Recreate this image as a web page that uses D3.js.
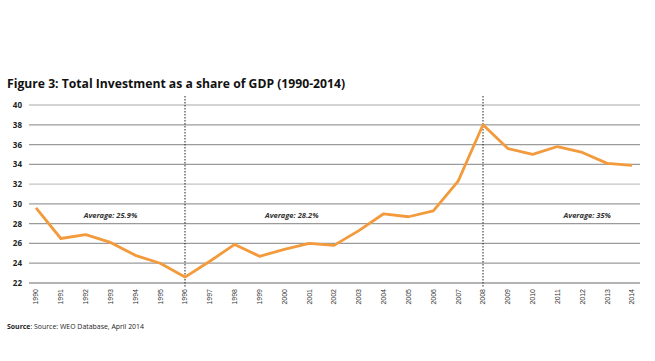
<!DOCTYPE html>
<html><head><meta charset="utf-8">
<script src="https://cdn.jsdelivr.net/npm/d3@7"></script>
<style>body{margin:0;background:#fff}svg{display:block}</style>
</head><body>
<svg id="c" width="655" height="361"></svg>
<script>
const years = d3.range(1990, 2015);
const values = [29.6,26.5,26.9,26.1,24.8,24.0,22.6,24.2,25.9,24.7,25.4,26.0,25.8,27.3,29.0,28.7,29.3,32.3,38.0,35.6,35.0,35.8,35.2,34.1,33.9];
const yTicks = [22,24,26,28,30,32,34,36,38,40];
const dividers = [1996, 2008];
const averages = [{label:"Average: 25.9%", year:1993}, {label:"Average: 28.2%", year:2000.3}, {label:"Average: 35%", year:2012.2}];
const title = "Figure 3: Total Investment as a share of GDP (1990-2014)";

const svg = d3.select("#c");
const x = d3.scaleLinear().domain([1990, 2014]).range([36, 632]);
const y = d3.scaleLinear().domain([22, 40]).range([283, 105]);

svg.append("g").selectAll("line").data(yTicks).join("line")
  .attr("x1", 29).attr("x2", 640)
  .attr("y1", d => y(d)).attr("y2", d => y(d))
  .attr("stroke", d => (d===40||d===32) ? "#c4c4c4" : "#9b9b9b").attr("stroke-width", 1.3);

svg.append("g").selectAll("text").data(yTicks).join("text")
  .attr("x", 22).attr("y", d => y(d) + 3)
  .attr("text-anchor", "end")
  .attr("font-family", "Open Sans, sans-serif").attr("font-weight", "bold")
  .attr("font-size", 8).attr("fill", "#222").text(d => d);

svg.append("g").selectAll("text").data(years).join("text")
  .attr("transform", d => `translate(${x(d)+2.4},289) rotate(-90)`)
  .attr("text-anchor", "end")
  .attr("font-family", "Liberation Sans, Arial, sans-serif")
  .attr("font-size", 7).attr("fill", "#333").text(d => d);

svg.append("g").selectAll("line").data(dividers).join("line")
  .attr("x1", d => x(d)).attr("x2", d => x(d))
  .attr("y1", 96).attr("y2", 287)
  .attr("stroke", "#222").attr("stroke-width", 1).attr("stroke-dasharray", "1.5,1.5");

svg.append("path").datum(values)
  .attr("fill", "none").attr("stroke", "#f39a3c").attr("stroke-width", 2.8)
  .attr("stroke-linejoin", "round")
  .attr("d", d3.line().x((d,i) => x(years[i])).y(d => y(d)));

svg.append("g").selectAll("text").data(averages).join("text")
  .attr("x", d => x(d.year)).attr("y", y(28.6))
  .attr("text-anchor", "middle")
  .attr("font-family", "Open Sans, sans-serif").attr("font-weight", "bold").attr("font-style", "italic")
  .attr("font-size", 7.5).attr("fill", "#333").text(d => d.label);

svg.append("text").attr("x", 7).attr("y", 88)
  .attr("font-family", "Open Sans, sans-serif").attr("font-weight", "bold")
  .attr("font-size", 12.5).attr("fill", "#111")
  .attr("textLength", 338).attr("lengthAdjust", "spacingAndGlyphs")
  .text(title);

const src = svg.append("text").attr("x", 7).attr("y", 329)
  .attr("font-family", "Open Sans, sans-serif").attr("font-size", 7).attr("fill", "#222")
  .attr("textLength", 137).attr("lengthAdjust", "spacingAndGlyphs");
src.append("tspan").attr("font-weight", "bold").text("Source");
src.append("tspan").text(": Source: WEO Database, April 2014");
</script>
</body></html>
